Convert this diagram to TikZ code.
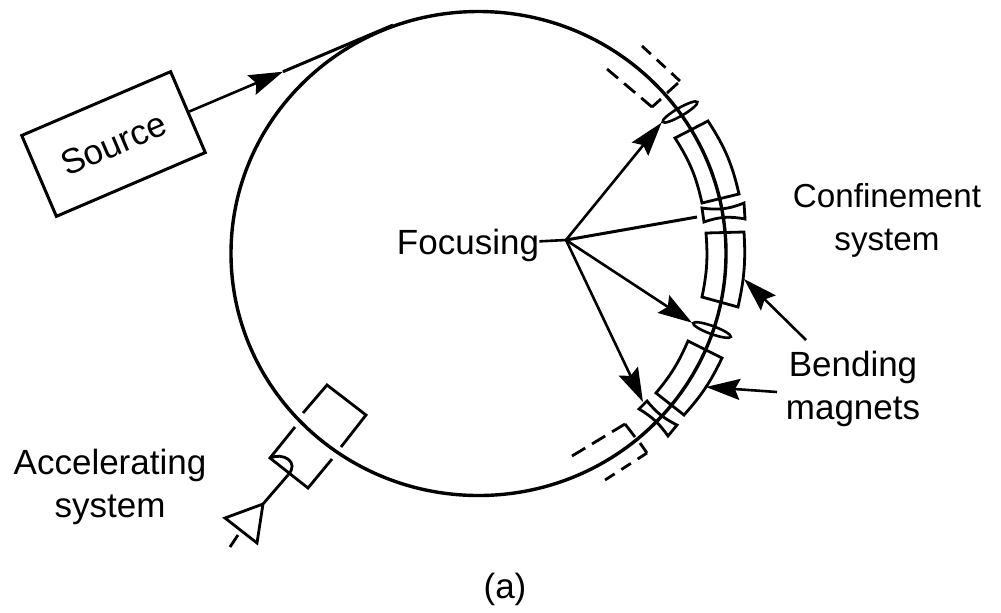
\documentclass[tikz,border=0pt]{standalone}
\usepackage{fontspec}
\setmainfont{Liberation Sans}
\usetikzlibrary{arrows.meta,shapes.geometric}

\begin{document}
\begin{tikzpicture}[
        x=0.5pt, y=-0.5pt,
        >={Stealth[length=17pt, width=10.5pt, inset=2.5pt]},
        every node/.style={font=\fontsize{17.5}{21.5}\selectfont},
        ring/.style={line width=1.7pt},
        part/.style={draw=black, line width=1.4pt, line join=miter},
        label/.style={align=center, inner sep=0pt},
        lens/.style={ellipse, draw=black, line width=1.3pt, minimum width=20pt, minimum height=4pt, inner sep=0pt},
        guide/.style={line width=1.4pt, dash pattern=on #1pt off 4pt},
        arrow/.style={->, line width=1.3pt}
    ]
    \useasboundingbox (0,0) rectangle (1001,612);

    \node[draw=black, line width=1.5pt, rotate=23.2, minimum width=81pt, minimum height=44pt, inner sep=0pt] (source) at (113.5,144) {Source};
    \node[label] (focusing) at (468,245) {Focusing};
    \node[label, font=\fontsize{16.6}{21.5}\selectfont] (confinement) at (887,220) {Confinement\\system};
    \node[label] (bending) at (853,389) {Bending\\magnets};
    \node[label] (accelerating) at (110,487) {Accelerating\\system};
    \node[label] (caption) at (505,589) {(a)};

    \node[lens, rotate=30] (lensa) at (680,112) {};
    \node[lens, rotate=-20] (lensb) at (712,330) {};

    \coordinate (hub) at (566,240);
    \coordinate (injtip) at (283,71.7);
    \coordinate (injend) at (393,25);
    \coordinate (polea) at (697,217);
    \coordinate (poleb) at (643,402);
    \coordinate (benda) at (806,340);
    \coordinate (magb) at (744,279);
    \coordinate (bendb) at (777,392);
    \coordinate (magc) at (706,387);

    % orbit
    \draw[ring] (478.5,253.5) ellipse [x radius=247.5, y radius=242];

    % injection
    \draw[arrow] (source.east) -- (injtip);
    \draw[line width=1.5pt] (injtip) -- (injend);

    % bending magnets
    \draw[part] (708,121) to[bend left=10] (739,194) -- (702,203) to[bend right=10] (675,138) -- cycle;
    \draw[part] (744,232) to[bend left=8] (738,307) -- (702,297) to[bend right=8] (706,233) -- cycle;
    \draw[part] (722,358) to[bend left=8] (684,415) -- (656,393) to[bend right=8] (688,341) -- cycle;

    % quadrupole pieces
    \draw[part] (702,208) to[bend right=15] (744,203) -- (745,219) to[bend right=15] (704,222) -- cycle;
    \draw[part] (647,401) to[bend right=12] (677,425) -- (668,436) to[bend right=12] (639,409) -- cycle;

    % dashed sections
    \draw[guide=6] (642,46) -- (680,81);
    \draw[part] (678,83) -- (667,93);
    \draw[guide=7.2] (607,69) -- (652,107);
    \draw[part] (652,107) -- (661,99);
    \draw[guide=7.7] (572,456) -- (625,424);
    \draw[part] (625,424) -- (635,437);
    \draw[guide=5.7] (605,480) -- (647,453);
    \draw[part] (647,453) -- (640,443);

    % accelerating cavity
    \draw[part] (303,413) -- (327,385) -- (366,415) -- (341,447);
    \draw[part] (295,427) -- (270,458) -- (308,488) -- (332,459);
    \draw[part] (270,458) .. controls (283,452) and (300,462) .. (288,475);
    \draw[part] (288,475) -- (263,504) -- (225,518) -- (257,543) -- (263,504);
    \draw[part] (238,535) -- (230,547);

    % focusing
    \draw[line width=1.3pt] (focusing) -- (hub);
    \draw[arrow] (hub) -- (lensa.west);
    \draw[line width=1.5pt] (hub) -- (polea);
    \draw[arrow] (hub) -- (lensb.west);
    \draw[arrow] (hub) -- (poleb);

    % bending labels
    \draw[arrow] (benda) -- (magb);
    \draw[arrow] (bendb) -- (magc);
\end{tikzpicture}
\end{document}
